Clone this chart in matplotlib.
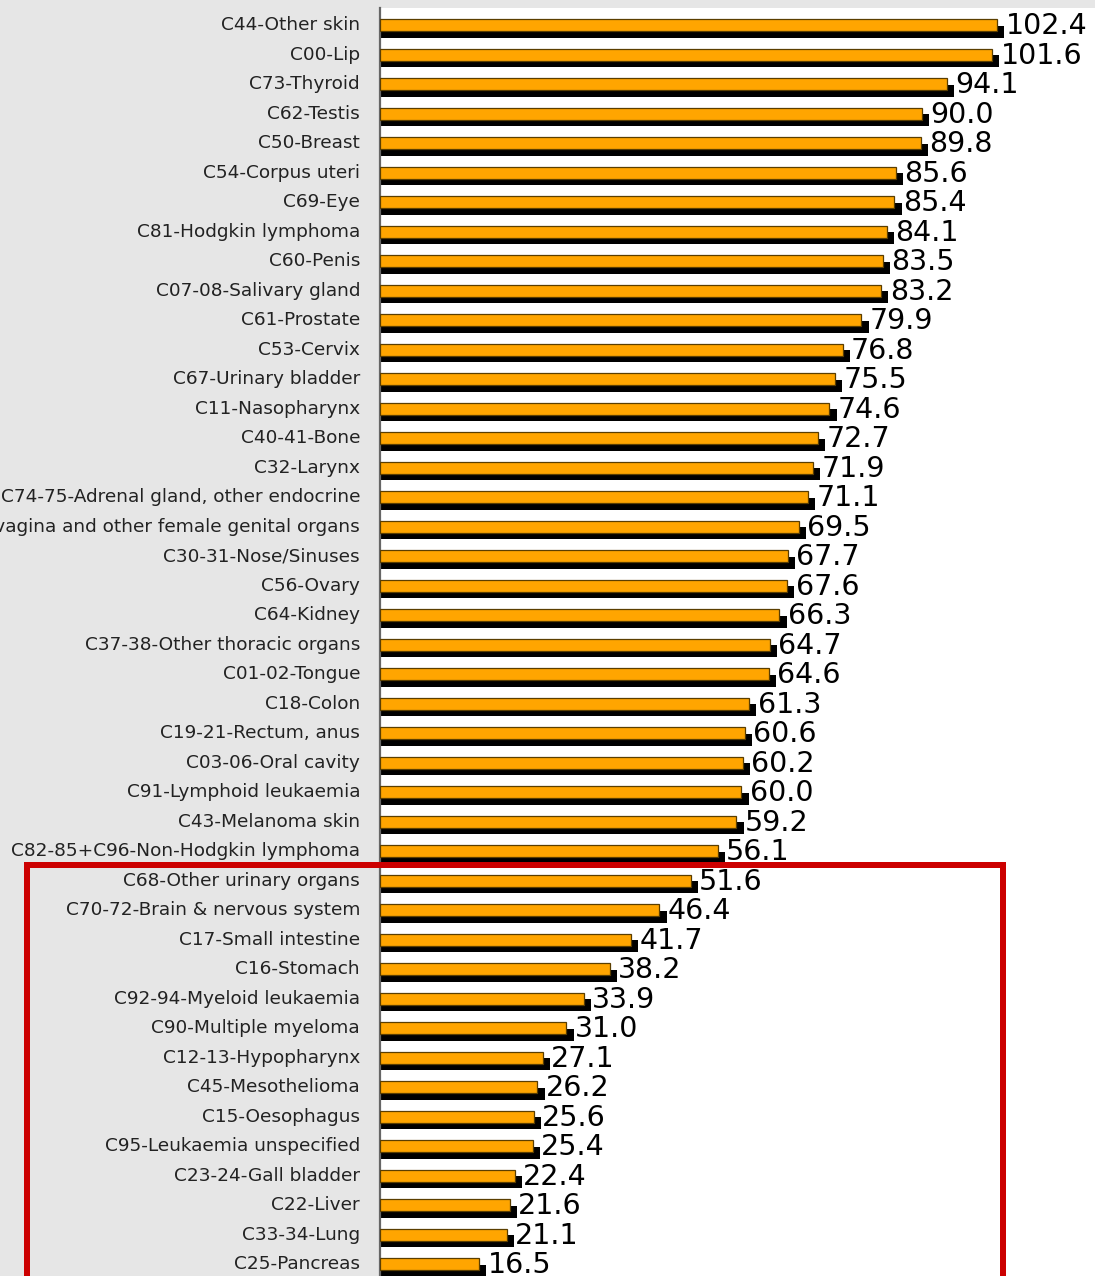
import matplotlib
matplotlib.use("Agg")
import matplotlib.pyplot as plt
from matplotlib.patches import Rectangle

categories = [
    "C44-Other skin", "C00-Lip", "C73-Thyroid", "C62-Testis", "C50-Breast",
    "C54-Corpus uteri", "C69-Eye", "C81-Hodgkin lymphoma", "C60-Penis",
    "C07-08-Salivary gland", "C61-Prostate", "C53-Cervix", "C67-Urinary bladder",
    "C11-Nasopharynx", "C40-41-Bone", "C32-Larynx",
    "C74-75-Adrenal gland, other endocrine",
    "C51-52+C57-Vulva, vagina and other female genital organs",
    "C30-31-Nose/Sinuses", "C56-Ovary", "C64-Kidney",
    "C37-38-Other thoracic organs", "C01-02-Tongue", "C18-Colon",
    "C19-21-Rectum, anus", "C03-06-Oral cavity", "C91-Lymphoid leukaemia",
    "C43-Melanoma skin", "C82-85+C96-Non-Hodgkin lymphoma",
    "C68-Other urinary organs", "C70-72-Brain & nervous system",
    "C17-Small intestine", "C16-Stomach", "C92-94-Myeloid leukaemia",
    "C90-Multiple myeloma", "C12-13-Hypopharynx", "C45-Mesothelioma",
    "C15-Oesophagus", "C95-Leukaemia unspecified", "C23-24-Gall bladder",
    "C22-Liver", "C33-34-Lung", "C25-Pancreas",
]
values = [
    102.4, 101.6, 94.1, 90.0, 89.8, 85.6, 85.4, 84.1, 83.5, 83.2, 79.9, 76.8,
    75.5, 74.6, 72.7, 71.9, 71.1, 69.5, 67.7, 67.6, 66.3, 64.7, 64.6, 61.3,
    60.6, 60.2, 60.0, 59.2, 56.1, 51.6, 46.4, 41.7, 38.2, 33.9, 31.0, 27.1,
    26.2, 25.6, 25.4, 22.4, 21.6, 21.1, 16.5,
]

W, H = 1095, 1276
fig = plt.figure(figsize=(W / 100, H / 100), dpi=100)
fig.patch.set_facecolor("#e6e6e6")

row_px = 29.5
first_px = 27.0
top_px = 8.0
bottom_px = 1300.0
left_px = 379.5
ax = fig.add_axes([left_px / W, 1 - bottom_px / H, (W - left_px) / W, (bottom_px - top_px) / H])
ax.set_facecolor("white")

y_top = -(first_px - top_px) / row_px
y_bot = (bottom_px - first_px) / row_px
ax.set_ylim(y_bot, y_top)
px_per_unit = 6.03
ax.set_xlim(0, (W - left_px) / px_per_unit)

ypos = list(range(len(values)))
h = 0.42
# shadow
ax.barh([y + 0.16 for y in ypos], [v + 1.2 for v in values], height=h, left=0,
        color="black", edgecolor="black", linewidth=0, zorder=2)
# main bars
ax.barh([y - 0.06 for y in ypos], values, height=h, left=0,
        color="#ffa500", edgecolor="#5a3e00", linewidth=0.9, zorder=3)

for y, v in zip(ypos, values):
    ax.text(v + 1.4, y - 0.02, f"{v:.1f}", va="center", ha="left",
            fontsize=20.5, color="black", zorder=4)

ax.set_yticks([y - 0.12 for y in ypos])
ax.set_yticklabels(categories, fontsize=13.3, color="#222222")
ax.tick_params(axis="y", length=0, pad=14)
ax.set_xticks([])
for s in ["top", "right", "bottom"]:
    ax.spines[s].set_visible(False)
ax.spines["left"].set_color("#666666")
ax.spines["left"].set_linewidth(1.6)

# red highlight box
lw_px = 6
rect = Rectangle((26.5 / W, -0.05), (1003 - 26.5) / W, (1 - 865 / H) + 0.05,
                 transform=fig.transFigure, fill=False, edgecolor="#cc0000",
                 linewidth=lw_px * 72 / 100, zorder=10, clip_on=False)
fig.add_artist(rect)

fig.savefig("out.png", dpi=100, facecolor=fig.get_facecolor())
